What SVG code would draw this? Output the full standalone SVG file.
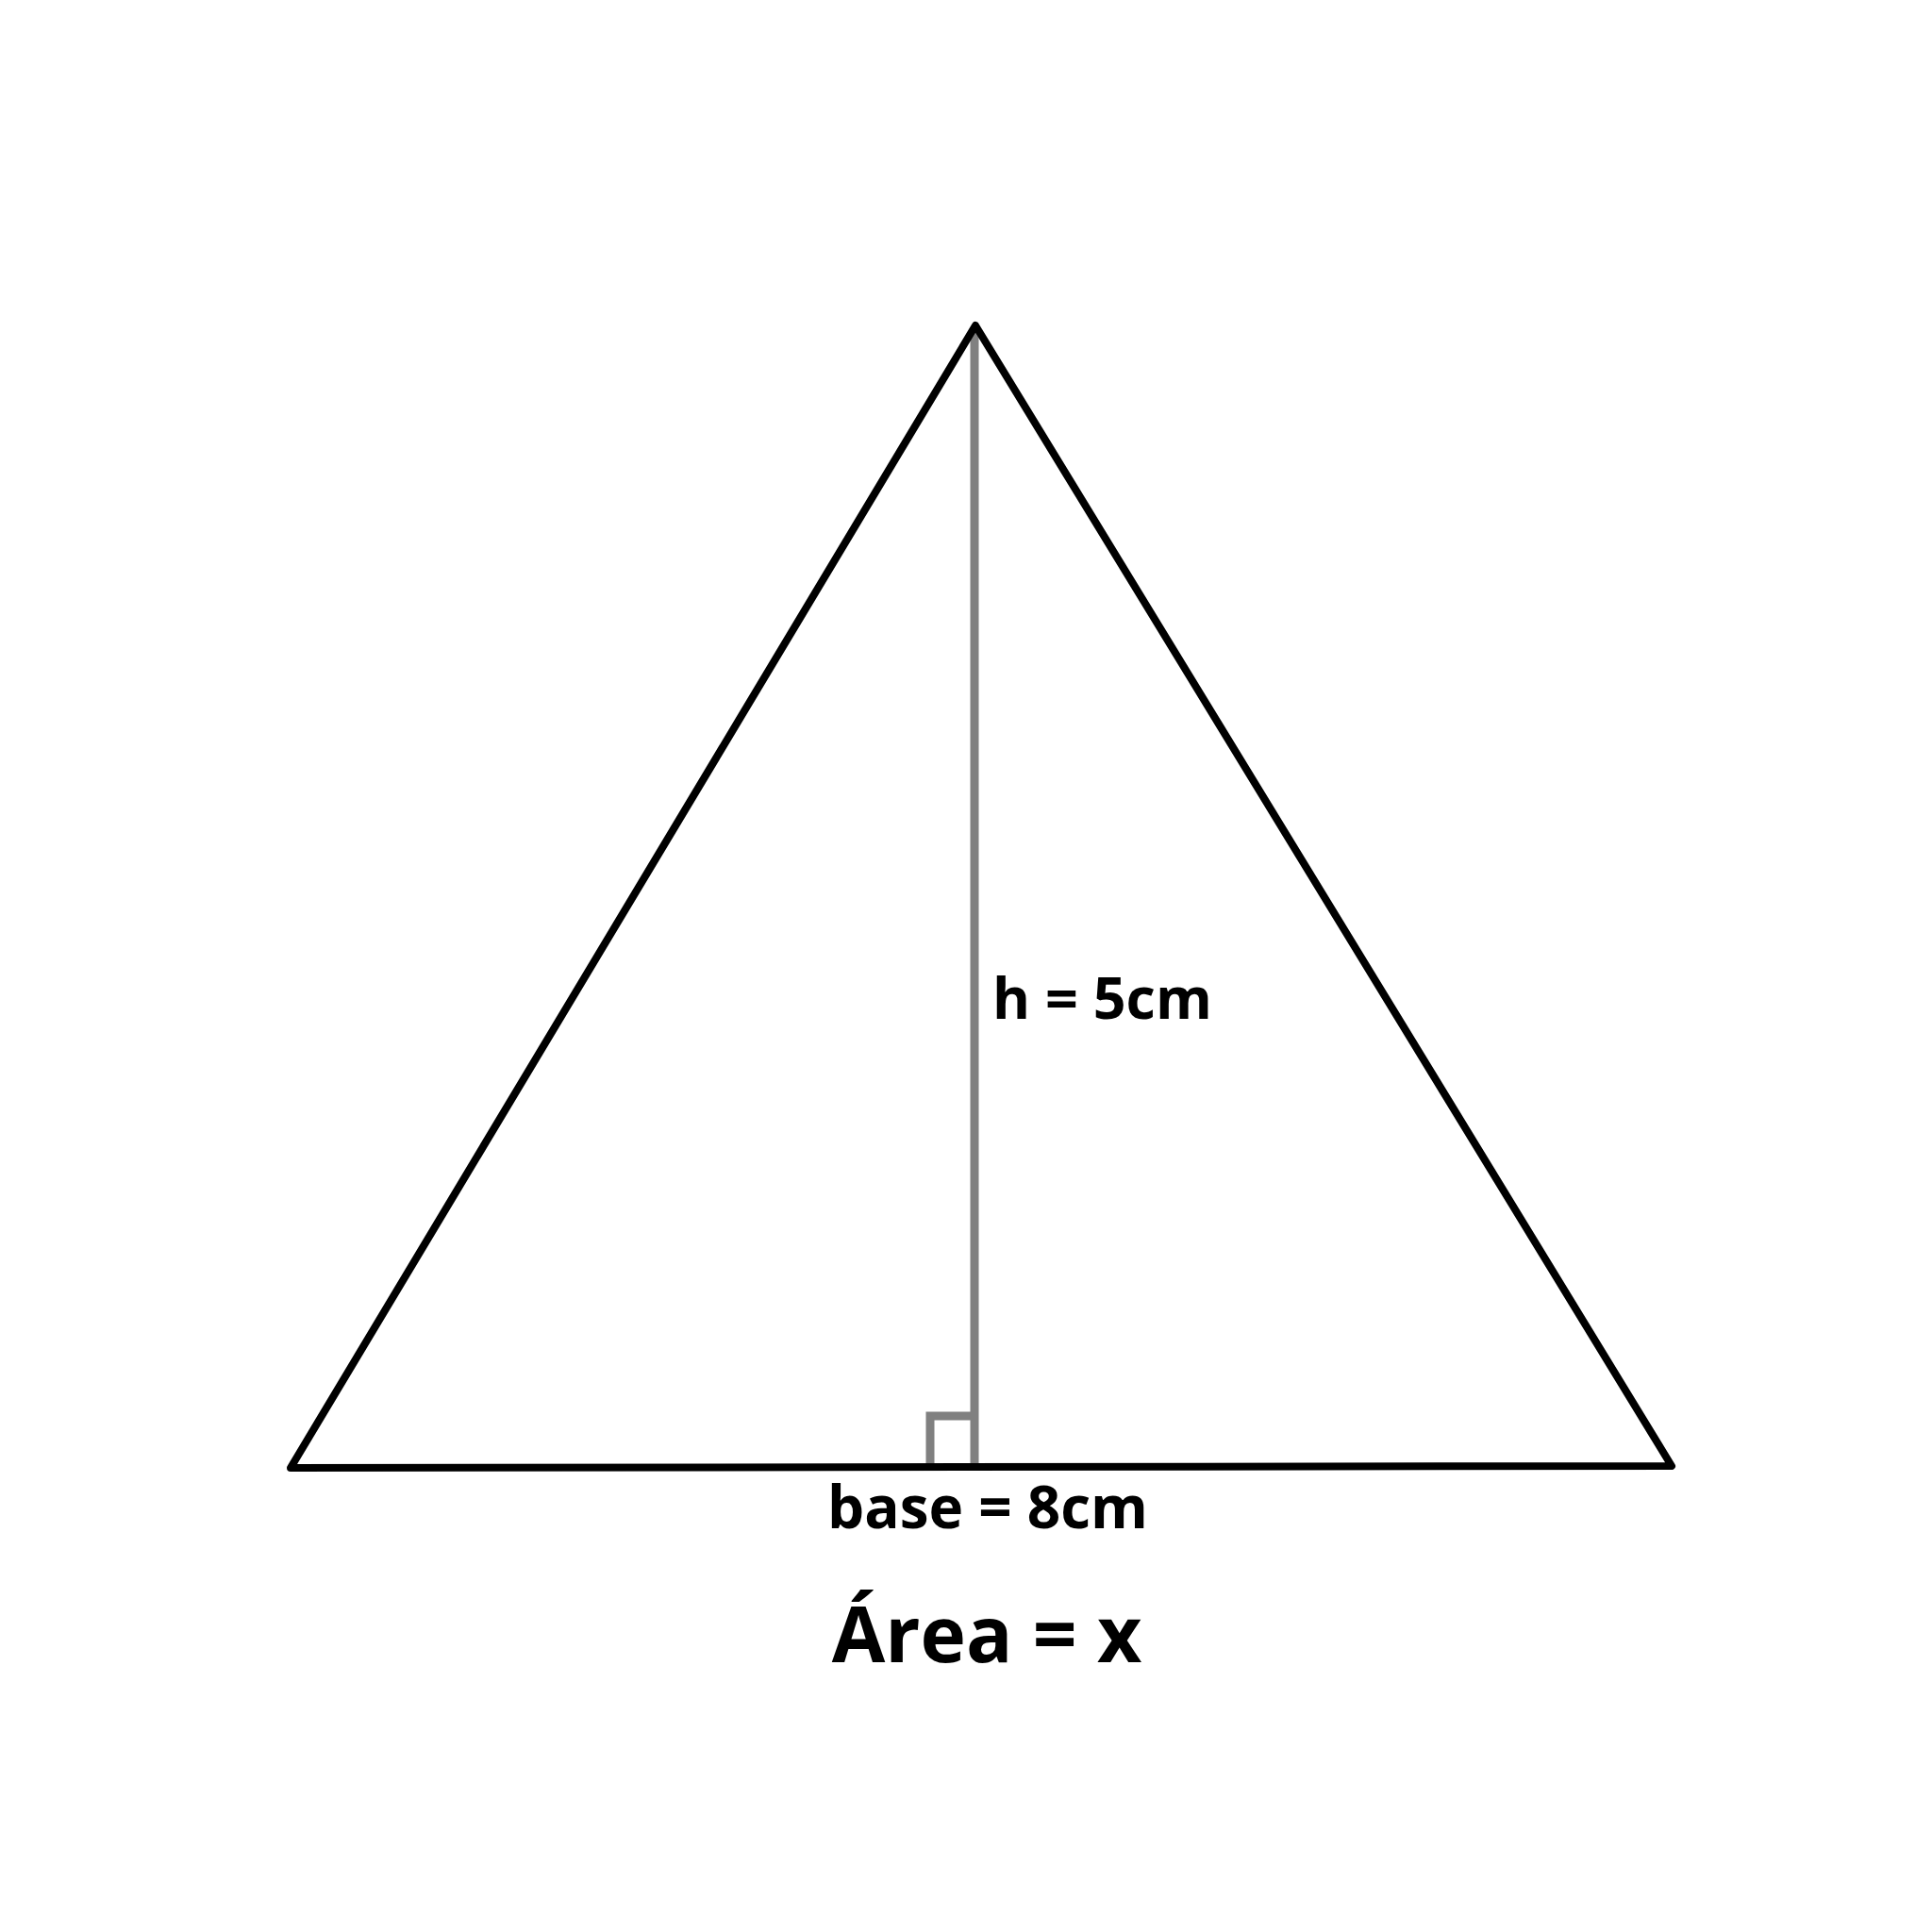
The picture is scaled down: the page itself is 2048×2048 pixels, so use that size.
<svg xmlns="http://www.w3.org/2000/svg" width="2048" height="2048" viewBox="0 0 2048 2048">
<style>
.tri{fill:none;stroke:#000;stroke-width:8;stroke-linejoin:round;stroke-linecap:round}
.h{fill:none;stroke:#808080;stroke-width:9;stroke-linecap:round}
.t{font-family:"Open Sans","Liberation Sans",sans-serif;font-weight:bold;fill:#000}
</style>
<rect width="2048" height="2048" fill="#fff"/>
<g id="height">
<path class="h" d="M1033,352 V1553"/>
<path class="h" d="M986,1553 V1501 H1031" style="stroke-linecap:butt"/>
</g>
<g id="triangle">
<path class="tri" d="M1034,345 L1772,1554 L308,1556 Z"/>
</g>
<g id="labels">
<text class="t" x="1052" y="1080" font-size="61">h = 5cm</text>
<text class="t" x="1047" y="1620" font-size="62" text-anchor="middle">base = 8cm</text>
<text class="t" x="1046" y="1762" font-size="82" text-anchor="middle">Área = x</text>
</g>
</svg>
